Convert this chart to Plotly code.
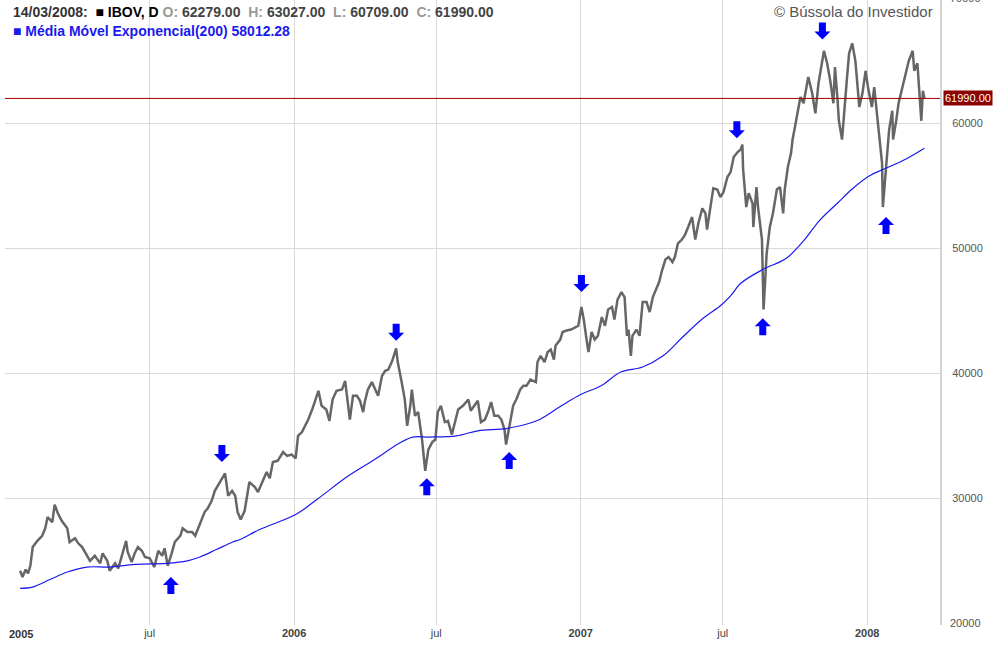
import plotly.graph_objects as go

# ---------------- data ----------------
price_dates = [
    "2005-01-17", "2005-01-20", "2005-01-24", "2005-01-27", "2005-01-30", "2005-02-02", "2005-02-08",
    "2005-02-14", "2005-02-18", "2005-02-21", "2005-02-27", "2005-03-02", "2005-03-06", "2005-03-11",
    "2005-03-18", "2005-03-21", "2005-03-28", "2005-04-01", "2005-04-06", "2005-04-12", "2005-04-16",
    "2005-04-22", "2005-04-29", "2005-05-02", "2005-05-08", "2005-05-11", "2005-05-18", "2005-05-22",
    "2005-05-27", "2005-06-01", "2005-06-03", "2005-06-08", "2005-06-12", "2005-06-16", "2005-06-21",
    "2005-06-25", "2005-07-01", "2005-07-07", "2005-07-12", "2005-07-17", "2005-07-20", "2005-07-24",
    "2005-07-29", "2005-08-02", "2005-08-09", "2005-08-12", "2005-08-18", "2005-08-24", "2005-08-28",
    "2005-09-01", "2005-09-06", "2005-09-09", "2005-09-13", "2005-09-18", "2005-09-22", "2005-09-29",
    "2005-10-05", "2005-10-09", "2005-10-14", "2005-10-18", "2005-10-21", "2005-10-25", "2005-10-30",
    "2005-11-05", "2005-11-12", "2005-11-16", "2005-11-22", "2005-11-27", "2005-12-01", "2005-12-05",
    "2005-12-11", "2005-12-18", "2005-12-23", "2005-12-29",
    "2006-01-03", "2006-01-06", "2006-01-11", "2006-01-15", "2006-01-19", "2006-01-24", "2006-01-28",
    "2006-02-01", "2006-02-05", "2006-02-11", "2006-02-15", "2006-02-19", "2006-02-24", "2006-03-03",
    "2006-03-07", "2006-03-11", "2006-03-13", "2006-03-17", "2006-03-22", "2006-03-26", "2006-03-30",
    "2006-04-01", "2006-04-05", "2006-04-10", "2006-04-14", "2006-04-18", "2006-04-23", "2006-04-27",
    "2006-05-01", "2006-05-06", "2006-05-11", "2006-05-13", "2006-05-18", "2006-05-22", "2006-05-25",
    "2006-05-29", "2006-05-31", "2006-06-04", "2006-06-08", "2006-06-13", "2006-06-17", "2006-06-21",
    "2006-06-26", "2006-06-30", "2006-07-03", "2006-07-07", "2006-07-12", "2006-07-16", "2006-07-21",
    "2006-07-25", "2006-07-29", "2006-08-04", "2006-08-11", "2006-08-14", "2006-08-19", "2006-08-23",
    "2006-08-27", "2006-09-01", "2006-09-05", "2006-09-09", "2006-09-13", "2006-09-18", "2006-09-22",
    "2006-09-26", "2006-09-28", "2006-10-03", "2006-10-07", "2006-10-11", "2006-10-16", "2006-10-20",
    "2006-10-24", "2006-10-29", "2006-11-02", "2006-11-05", "2006-11-07", "2006-11-11", "2006-11-16",
    "2006-11-20", "2006-11-24", "2006-11-28", "2006-11-30", "2006-12-06", "2006-12-09", "2006-12-13",
    "2006-12-20", "2006-12-25", "2006-12-29",
    "2007-01-02", "2007-01-05", "2007-01-09", "2007-01-11", "2007-01-15", "2007-01-19", "2007-01-23",
    "2007-01-28", "2007-02-01", "2007-02-05", "2007-02-10", "2007-02-13", "2007-02-17", "2007-02-22",
    "2007-02-26", "2007-03-01", "2007-03-03", "2007-03-06", "2007-03-08", "2007-03-13", "2007-03-17",
    "2007-03-21", "2007-03-26", "2007-03-30", "2007-04-03", "2007-04-07", "2007-04-11", "2007-04-15",
    "2007-04-19", "2007-04-23", "2007-04-28", "2007-05-01", "2007-05-05", "2007-05-10", "2007-05-14",
    "2007-05-18", "2007-05-23", "2007-05-27", "2007-05-31", "2007-06-05", "2007-06-09", "2007-06-11",
    "2007-06-15", "2007-06-19", "2007-06-24", "2007-06-28", "2007-07-02", "2007-07-07", "2007-07-11",
    "2007-07-15", "2007-07-20", "2007-07-24", "2007-07-26", "2007-07-27", "2007-07-31", "2007-08-03",
    "2007-08-08", "2007-08-09", "2007-08-13", "2007-08-15", "2007-08-20", "2007-08-21", "2007-08-22",
    "2007-08-26", "2007-08-30", "2007-09-03", "2007-09-08", "2007-09-12", "2007-09-16", "2007-09-18",
    "2007-09-22", "2007-09-26", "2007-09-28", "2007-10-01", "2007-10-04", "2007-10-08", "2007-10-12",
    "2007-10-16", "2007-10-18", "2007-10-23", "2007-10-27", "2007-10-31", "2007-11-05", "2007-11-07",
    "2007-11-11", "2007-11-15", "2007-11-19", "2007-11-21", "2007-11-24", "2007-11-26", "2007-11-30",
    "2007-12-03", "2007-12-06", "2007-12-09", "2007-12-13", "2007-12-17", "2007-12-19", "2007-12-22",
    "2007-12-26", "2007-12-30",
    "2008-01-02", "2008-01-07", "2008-01-10", "2008-01-14", "2008-01-16", "2008-01-20", "2008-01-21",
    "2008-01-24", "2008-01-26", "2008-01-29", "2008-02-02", "2008-02-03", "2008-02-07", "2008-02-10",
    "2008-02-15", "2008-02-19", "2008-02-23", "2008-02-28", "2008-03-01", "2008-03-05", "2008-03-07",
    "2008-03-10", "2008-03-12", "2008-03-14",
]
price_values = [
    24200, 23700, 24300, 24000, 24600, 26100, 26600,
    27000, 27600, 28500, 28100, 29500, 28800, 28200,
    27600, 26500, 26800, 26400, 26100, 25400, 25000,
    25400, 24800, 25600, 25000, 24200, 24800, 24400,
    25400, 26600, 25700, 24900, 25600, 26100, 25800,
    25300, 25200, 24500, 25800, 25400, 26000, 24600,
    25600, 26500, 27000, 27600, 27300, 27300, 27000,
    27600, 28400, 28900, 29200, 29800, 30600, 31300,
    32000, 30200, 30600, 30200, 28900, 28300, 29000,
    31300, 30900, 30500, 31300, 32100, 31600, 32900,
    33000, 33700, 33400, 33500,
    33200, 35000, 35300, 35800, 36300, 37100, 37900,
    38600, 37400, 37100, 36200, 37900, 38600, 38700,
    39400, 37100, 36300, 38200, 38200, 37800, 36900,
    37700, 38700, 39300, 38700, 38200, 39800, 40200,
    40300, 41000, 42000, 40900, 39300, 37900, 35800,
    37400, 38700, 36600, 36900, 34700, 32200, 33900,
    34500, 34700, 36900, 37400, 36100, 36200, 35100,
    36200, 37100, 37400, 37900, 37000, 37400, 37800,
    36100, 36300, 36900, 37700, 36600, 36600, 36300,
    35500, 34300, 36100, 37400, 37900, 38700, 39000,
    39000, 39500, 39400, 39300, 40900, 41400, 40900,
    41700, 41900, 41100, 42200, 42700, 43300, 43400,
    43500, 43700, 43800,
    45300, 44300, 42500, 41700, 43300, 42700, 43000,
    44500, 43800, 45100, 45300, 44300, 45900, 46500,
    46100, 43000, 43500, 41400, 43000, 43500, 43000,
    45700, 45700, 44900, 46100, 46700, 47300, 48300,
    49100, 49300, 48900, 49300, 50400, 50700, 51100,
    51700, 52500, 50700, 52000, 53200, 52800, 51500,
    53300, 54800, 54700, 54100, 54500, 55700, 56100,
    57300, 57700, 57900, 58300, 56300, 53300, 54400,
    53600, 51700, 54900, 53300, 50700, 48300, 45100,
    49600, 51700, 52800, 54700, 54900, 52800, 54700,
    56500, 57600, 58700, 59700, 60800, 62100, 61600,
    62900, 63700, 62400, 60800, 63200, 65300, 65800,
    64800, 63400, 61600, 64500, 62100, 60200, 58700,
    61300, 63400, 65600, 66400, 65000, 63700, 61300,
    62400, 64200,
    62900, 61300, 62900, 60500, 59500, 56800, 53300,
    55500, 57600, 59500, 61000, 58700, 60200, 61600,
    62900, 64000, 65000, 65800, 64200, 64800, 62900,
    60200, 62600, 61990,
]

ema_dates = [
    "2005-01-17", "2005-02-02", "2005-02-24", "2005-03-18", "2005-04-12", "2005-05-11", "2005-06-09",
    "2005-07-23", "2005-08-18", "2005-09-03", "2005-09-24", "2005-10-15", "2005-10-24", "2005-11-18",
    "2006-01-03", "2006-01-30", "2006-03-09", "2006-04-11", "2006-05-15", "2006-06-01", "2006-06-23",
    "2006-07-27", "2006-08-23", "2006-09-30", "2006-11-06", "2006-12-05", "2007-01-01", "2007-01-27",
    "2007-02-21", "2007-03-21", "2007-04-16", "2007-05-11", "2007-06-06", "2007-06-28", "2007-07-11",
    "2007-07-24", "2007-08-21", "2007-09-20", "2007-10-12", "2007-11-01", "2007-11-24", "2007-12-14",
    "2008-01-04", "2008-01-21", "2008-02-15", "2008-03-14",
]
ema_values = [
    22800, 22900, 23500, 24100, 24500, 24500, 24700,
    24800, 25000, 25300, 25900, 26500, 26700, 27500,
    28700, 29900, 31700, 33000, 34400, 34900, 34900,
    35000, 35400, 35600, 36200, 37300, 38300, 39000,
    40100, 40500, 41400, 42900, 44400, 45400, 46200,
    47200, 48300, 49200, 50600, 52200, 53600, 54800,
    55800, 56300, 57000, 58012.28,
]

down_arrow_dates = ["2005-10-01", "2006-05-11", "2007-01-02", "2007-07-19", "2007-11-05"]
down_arrow_levels = [32900, 42600, 46500, 58800, 66700]
up_arrow_dates = ["2005-07-28", "2006-06-19", "2006-10-02", "2007-08-21", "2008-01-25"]
up_arrow_levels = [23700, 31600, 33700, 44400, 52500]

last_close = 61990.00
x_tick_dates = ["2005-07-01", "2006-01-01", "2006-07-01", "2007-01-01", "2007-07-01", "2008-01-01"]
x_tick_labels = ["jul", "<b>2006</b>", "jul", "<b>2007</b>", "jul", "<b>2008</b>"]
y_tick_values = [30000, 40000, 50000, 60000]
y_edge_labels = [20000, 70000]
y_range = [19864, 69864]

# ---------------- figure ----------------
FONT = "Liberation Sans, Arial, sans-serif"
fig = go.Figure()

fig.add_trace(go.Scatter(
    x=price_dates, y=price_values, mode="lines",
    line=dict(color="#666666", width=2.5), hoverinfo="skip", showlegend=False,
))
fig.add_trace(go.Scatter(
    x=ema_dates, y=ema_values, mode="lines", line_shape="spline",
    line=dict(color="#1a1aee", width=1.2), hoverinfo="skip", showlegend=False,
))

shapes = [dict(type="line", xref="paper", x0=0, x1=1, yref="y", y0=last_close, y1=last_close,
               line=dict(color="#a00000", width=1), layer="above")]
DOWN = "M0,0 L8,8 L3.5,8 L3.5,17 L-3.5,17 L-3.5,8 L-8,8 Z"
UP = "M0,0 L8,-8 L3.5,-8 L3.5,-17 L-3.5,-17 L-3.5,-8 L-8,-8 Z"
for d, v in zip(down_arrow_dates, down_arrow_levels):
    shapes.append(dict(type="path", xref="x", yref="y", xsizemode="pixel", ysizemode="pixel",
                       xanchor=d, yanchor=v, path=DOWN, fillcolor="#0000ff",
                       line=dict(width=0), layer="above"))
for d, v in zip(up_arrow_dates, up_arrow_levels):
    shapes.append(dict(type="path", xref="x", yref="y", xsizemode="pixel", ysizemode="pixel",
                       xanchor=d, yanchor=v, path=UP, fillcolor="#0000ff",
                       line=dict(width=0), layer="above"))

annotations = []
header = (
    "<span style='color:#333333'><b>14/03/2008:</b></span>  "
    "<span style='color:#000000'><b>■ IBOV, D</b></span> "
    "<span style='color:#999999'><b>O:</b></span> <span style='color:#444444'><b>62279.00</b></span>  "
    "<span style='color:#999999'><b>H:</b></span> <span style='color:#444444'><b>63027.00</b></span>  "
    "<span style='color:#999999'><b>L:</b></span> <span style='color:#444444'><b>60709.00</b></span>  "
    "<span style='color:#999999'><b>C:</b></span> <span style='color:#444444'><b>61990.00</b></span>"
)
annotations.append(dict(xref="paper", yref="paper", x=0, y=1, xanchor="left", yanchor="top",
                        xshift=6, yshift=-2, text=header, showarrow=False,
                        font=dict(family=FONT, size=14, color="#333333")))
annotations.append(dict(xref="paper", yref="paper", x=0, y=1, xanchor="left", yanchor="top",
                        xshift=6, yshift=-21, showarrow=False,
                        text="<b>■ Média Móvel Exponencial(200) 58012.28</b>",
                        font=dict(family=FONT, size=14, color="#1a1aee")))
annotations.append(dict(xref="paper", yref="paper", x=1, y=1, xanchor="right", yanchor="top",
                        xshift=-5, yshift=-1, showarrow=False, text="© Bússola do Investidor",
                        font=dict(family=FONT, size=15, color="#555555")))
annotations.append(dict(xref="paper", yref="y", x=1, y=last_close, xanchor="left", yanchor="middle",
                        xshift=3, showarrow=False, text=f"{last_close:.2f}", bgcolor="#8b0000",
                        borderpad=1, font=dict(family=FONT, size=11, color="#ffffff")))
# edge labels (20000 at the bottom edge, 70000 just above the top edge) in paper units
for v in y_edge_labels:
    annotations.append(dict(xref="paper", yref="paper", x=1,
                            y=(v - y_range[0]) / (y_range[1] - y_range[0]),
                            xanchor="left", yanchor="middle",
                            xshift=8, showarrow=False, text=str(v),
                            font=dict(family=FONT, size=11, color="#555555")))
annotations.append(dict(xref="paper", yref="paper", x=0, y=0, xanchor="left", yanchor="top",
                        xshift=2, yshift=-1, showarrow=False, text="<b>2005</b>",
                        font=dict(family=FONT, size=11, color="#333333")))

fig.update_layout(
    width=1000, height=650,
    margin=dict(l=5, r=60, t=0, b=25),
    paper_bgcolor="white", plot_bgcolor="white",
    font=dict(family=FONT, size=11, color="#555555"),
    shapes=shapes, annotations=annotations,
    hovermode=False,
    xaxis=dict(
        type="date", range=["2004-12-28 17:00", "2008-04-02 19:00"],
        tickvals=x_tick_dates, ticktext=x_tick_labels,
        showgrid=True, gridcolor="#d9d9d9", gridwidth=1,
        showline=False, zeroline=False, ticks="", ticklabelstandoff=0,
        tickfont=dict(family=FONT, size=11, color="#444444"),
    ),
    yaxis=dict(
        side="right", range=y_range,
        tickvals=y_tick_values, ticktext=[str(v) for v in y_tick_values],
        showgrid=True, gridcolor="#d9d9d9", gridwidth=1,
        showline=True, linecolor="#d4d4d4", linewidth=2,
        zeroline=False, ticks="", ticklabelstandoff=8,
        tickfont=dict(family=FONT, size=11, color="#555555"),
    ),
)

# the page is photographed from its top-left corner: drop the browser's default body margin
fig.write_html("out.html", config={"displayModeBar": False},
               post_script="document.body.style.margin='0px';")
